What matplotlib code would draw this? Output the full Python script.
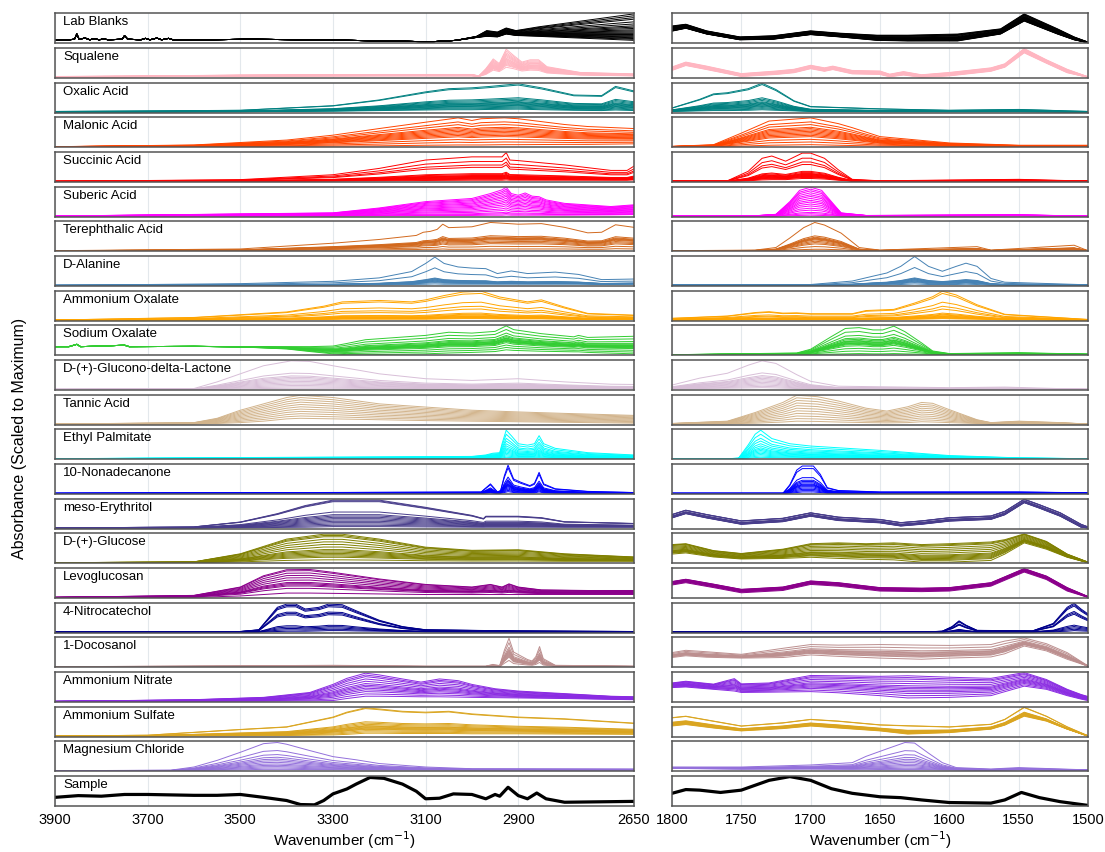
import numpy as np
import matplotlib
matplotlib.use('Agg')
from matplotlib import pyplot as plt

plt.rcParams['font.family'] = ['Liberation Sans', 'DejaVu Sans']

names = ['Lab Blanks', 'Squalene', 'Oxalic Acid', 'Malonic Acid', 'Succinic Acid',
         'Suberic Acid', 'Terephthalic Acid', 'D-Alanine', 'Ammonium Oxalate',
         'Sodium Oxalate', 'D-(+)-Glucono-delta-Lactone', 'Tannic Acid',
         'Ethyl Palmitate', '10-Nonadecanone', 'meso-Erythritol', 'D-(+)-Glucose',
         'Levoglucosan', '4-Nitrocatechol', '1-Docosanol', 'Ammonium Nitrate',
         'Ammonium Sulfate', 'Magnesium Chloride', 'Sample']
colors = ['black', '#FFB6C1', '#008080', '#FF4500', '#FF0000', '#FF00FF', '#D2691E',
          '#4682B4', '#FFA500', '#32CD32', '#D8BFD8', '#D2B48C', '#00FFFF', '#0000FF',
          '#483D8B', '#808000', '#8B008B', '#00008B', '#BC8F8F', '#8A2BE2', '#DAA520',
          '#9370DB', 'black']

left_ticks = [3900, 3700, 3500, 3300, 3100, 2900, 2650]
right_ticks = [1800, 1750, 1700, 1650, 1600, 1550, 1500]

lab_L = [(3900,.09,.09),(3870,.1,.1),(3858,.12,.12),(3853,.3,.3),(3848,.12,.12),(3835,.16,.16),
         (3825,.1,.1),(3815,.14,.14),(3805,.1,.1),(3795,.13,.13),(3785,.1,.1),(3755,.12,.12),
         (3750,.24,.24),(3743,.12,.12),(3715,.1,.1),(3705,.15,.15),(3695,.1,.1),(3680,.16,.16),
         (3670,.1,.1),(3655,.15,.15),(3645,.1,.1),(3572,.1,.1),(3480,.12,.12),(3300,.09,.09),
         (3150,.05,.05),(3090,.03,.03),(3035,.08,.08),(2990,.22,.18),(2968,.42,.22),
         (2945,.37,.2),(2926,.51,.3),(2905,.42,.25),(2856,.55,.22),(2650,1.0,.08)]
lab_R = [(1800,.58,.4),(1790,.64,.5),(1775,.41,.3),(1751,.2,.1),(1727,.24,.12),(1700,.41,.28),
         (1679,.33,.2),(1652,.26,.08),(1630,.26,.06),(1594,.3,.06),(1563,.48,.3),(1546,1.0,.75),
         (1522,.48,.3),(1510,.2,.1),(1500,.02,0)]
lab_w = [1, .93, .86, .8, .7, .62, .55, .5, .45, .4, .36, .32, .28, .25, .22, .19, .16, .13, .1, .07, .04, 0]

squalene_L = [(3900,.03,0),(3700,.05,.02),(3500,.08,.04),(3200,.1,.05),(3000,.1,.05),(2985,.05,.03),
              (2970,.3,.1),(2954,.64,.25),(2941,.48,.2),(2926,.98,.35),(2910,.76,.3),(2892,.53,.22),
              (2874,.61,.25),(2856,.61,.24),(2838,.37,.15),(2766,.17,.08),(2650,.12,.05)]
squalene_R = [(1800,.36,.24),(1790,.53,.41),(1775,.39,.27),(1750,.13,.03),(1725,.22,.1),(1712,.28,.16),
              (1700,.42,.3),(1690,.33,.21),(1684,.39,.27),(1670,.24,.12),(1650,.22,.1),(1643,.11,.02),
              (1633,.2,.08),(1620,.09,0),(1600,.17,.05),(1570,.33,.21),(1560,.47,.35),(1546,1.0,.85),
              (1530,.61,.49),(1515,.28,.16),(1500,.02,0)]
squalene_w = [1, .9, .8, .72, .65, .58, .5, .45, .4, .35, .3, .25, .2, .15, .1, 0]

oxalic_L = [(3900,.02,0),(3500,.06,.01),(3300,.22,.03),(3200,.42,.05),(3100,.7,.07),(3050,.81,.08),
            (3000,.84,.08),(2960,.89,.09),(2900,.98,.1),(2850,.84,.08),(2780,.59,.06),(2720,.57,.05),
            (2690,.89,.07),(2650,.73,.05)]
oxalic_R = [(1800,.14,.02),(1780,.44,.04),(1770,.63,.05),(1760,.67,.05),(1745,.81,.06),(1735,1.0,.08),
            (1725,.78,.06),(1712,.39,.04),(1700,.19,.02),(1650,.11,.01),(1600,.06,.01),(1550,.09,.01),
            (1500,.02,0)]
oxalic_w = [1, .95, .45, .4, .35, .3, .27, .24, .21, .18, .15, .12, .08, .04, 0]

malonic_L = [(3900,0,0),(3600,.06,0),(3400,.23,.01),(3300,.4,.02),(3200,.63,.03),(3100,.85,.05),
             (3030,1.0,.06),(3000,.91,.06),(2980,.97,.06),(2930,1.0,.07),(2900,.97,.07),(2800,.77,.08),
             (2750,.7,.08),(2650,.63,.1)]
malonic_R = [(1800,.01,0),(1770,.07,0),(1750,.47,.02),(1730,.89,.05),(1700,1.0,.07),(1680,.8,.05),
             (1670,.66,.04),(1650,.35,.02),(1600,.13,.01),(1550,.05,0),(1500,.05,0)]
malonic_w = [1, .85, .75, .65, .6, .55, .5, .45, .4, .35, .3, .2, .1, 0]

succinic_L = [(3900,0,0),(3500,.06,0),(3300,.23,.01),(3200,.45,.02),(3100,.74,.03),(3000,.85,.04),
              (2935,.85,.04),(2926,1.0,.05),(2918,.74,.04),(2900,.72,.04),(2800,.57,.04),(2700,.38,.04),
              (2665,.38,.04),(2650,.53,.05)]
succinic_R = [(1800,.01,0),(1760,.02,0),(1745,.35,.02),(1735,.8,.05),(1728,.88,.06),(1718,.7,.06),
              (1706,.98,.1),(1700,.98,.1),(1690,.8,.08),(1680,.4,.04),(1670,.07,.01),(1650,.02,0),
              (1550,.07,.01),(1500,.01,0)]
succinic_w = [1, .8, .65, .55, .28, .24, .2, .18, .16, .14, .12, .1, .08, .06, .04, 0]

suberic_L = [(3900,0,0),(3300,.11,0),(3200,.28,.01),(3100,.5,.02),(3000,.61,.02),(2960,.78,.03),
             (2935,.91,.03),(2926,1.0,.04),(2915,.78,.03),(2900,.72,.03),(2885,.8,.03),(2870,.69,.03),
             (2855,.67,.03),(2840,.56,.03),(2800,.44,.03),(2700,.33,.04),(2650,.39,.05)]
suberic_R = [(1800,0,0),(1740,.01,0),(1725,.06,0),(1715,.5,.01),(1708,.89,.02),(1700,1.0,.03),
             (1692,.89,.02),(1685,.5,.01),(1678,.11,0),(1660,.02,0),(1550,.04,.01),(1500,0,0)]
suberic_w = [1, .93, .87, .8, .73, .67, .6, .53, .47, .4, .33, .25, .18, .1, .05, 0]

tere_L = [(3900,0,0),(3500,.06,0),(3300,.26,.02),(3200,.39,.03),(3120,.53,.04),(3105,.64,.05),
          (3090,.67,.05),(3075,.74,.05),(3063,.92,.06),(3050,.8,.05),(3000,.83,.05),(2960,.98,.06),
          (2900,.92,.06),(2850,.94,.06),(2800,.81,.06),(2750,.62,.05),(2720,.64,.05),(2690,.9,.07),
          (2650,.81,.06)]
tere_R = [(1800,0,0),(1740,.02,0),(1725,.11,0),(1715,.44,.02),(1705,.8,.04),(1697,.98,.05),
          (1690,.89,.05),(1678,.61,.03),(1665,.11,0),(1650,.02,0),(1580,.14,.01),(1570,.02,0),
          (1510,.19,.01),(1500,0,0)]
tere_w = [1, .5, .45, .42, .4, .38, .35, .3, .25, .2, .1, 0]

alanine_L = [(3900,0,0),(3500,.06,0),(3300,.14,.01),(3200,.26,.02),(3130,.48,.03),(3100,.76,.04),
             (3080,.98,.05),(3060,.76,.04),(3030,.64,.04),(3000,.6,.04),(2970,.58,.04),(2945,.41,.04),
             (2915,.5,.04),(2880,.41,.04),(2820,.46,.04),(2770,.38,.04),(2720,.2,.03),(2650,.22,.04)]
alanine_R = [(1800,.02,0),(1700,.03,0),(1670,.15,.01),(1655,.32,.02),(1645,.43,.02),(1635,.66,.03),
             (1625,1.0,.05),(1615,.66,.03),(1605,.49,.03),(1595,.66,.03),(1588,.77,.04),(1580,.66,.03),
             (1570,.24,.01),(1560,.11,.01),(1500,.02,0)]
alanine_w = [1, .6, .22, .2, .18, .16, .14, .12, .1, .08, .05, 0]

amox_L = [(3900,0,0),(3600,.09,0),(3400,.28,.01),(3320,.48,.02),(3280,.63,.03),(3230,.66,.03),
          (3200,.68,.03),(3130,.63,.03),(3100,.7,.03),(3060,.85,.04),(3020,.97,.05),(2980,1.0,.05),
          (2940,.8,.04),(2880,.63,.04),(2850,.7,.04),(2800,.45,.03),(2750,.23,.02),(2650,.17,.02)]
amox_R = [(1800,.06,0),(1760,.14,.01),(1740,.26,.01),(1730,.29,.01),(1720,.24,.01),(1710,.25,.01),
          (1700,.22,.01),(1670,.22,.01),(1660,.33,.01),(1640,.37,.02),(1625,.59,.03),(1612,.81,.04),
          (1605,1.0,.05),(1595,.87,.04),(1580,.53,.03),(1560,.2,.01),(1540,.14,.01),(1500,.02,0)]
amox_w = [1, .92, .6, .45, .35, .2, .16, .13, .1, .08, .06, .04, .02, 0]

naox_L = [(3900,.28,.28),(3870,.28,.28),(3853,.36,.36),(3845,.28,.28),(3800,.3,.3),(3750,.33,.33),
          (3740,.28,.28),(3600,.29,.29),(3500,.28,.27),(3400,.28,.2),(3350,.28,.11),(3300,.3,.03),
          (3270,.39,0),(3230,.52,0),(3100,.67,.03),(3050,.78,.06),(3000,.75,.08),(2950,.81,.11),
          (2926,1.0,.17),(2910,.87,.15),(2850,.73,.12),(2780,.62,.1),(2770,.67,.1),(2750,.6,.08),
          (2650,.64,.03)]
naox_R = [(1800,0,0),(1710,.06,0),(1700,.19,.01),(1685,.63,.02),(1675,.91,.03),(1665,.94,.04),
          (1655,.86,.03),(1648,.86,.03),(1640,.99,.04),(1632,.8,.03),(1620,.41,.02),(1612,.13,.01),
          (1600,.04,0),(1550,.07,.01),(1500,.02,0)]
naox_w = [1, .85, .7, .6, .55, .5, .48, .45, .42, .4, .38, .35, .3, .2, .1, 0]

glucono_L = [(3900,0,0),(3600,.03,0),(3550,.26,.01),(3500,.54,.02),(3450,.82,.03),(3390,.99,.04),
             (3350,.97,.04),(3300,.82,.04),(3200,.54,.03),(3100,.37,.03),(3000,.31,.03),(2900,.37,.03),
             (2800,.26,.03),(2700,.18,.02),(2650,.17,.02)]
glucono_R = [(1800,.15,.02),(1780,.39,.03),(1760,.56,.04),(1745,.84,.05),(1735,.99,.06),(1725,.9,.05),
             (1710,.51,.03),(1700,.28,.02),(1680,.11,.01),(1600,.06,.01),(1560,.08,.01),(1500,0,0)]
glucono_w = [1, .55, .45, .4, .35, .3, .25, .2, .15, .1, .05, 0]

tannic_L = [(3900,0,0),(3600,.05,0),(3550,.2,.02),(3500,.48,.05),(3450,.7,.1),(3400,.92,.18),
            (3370,1.0,.2),(3300,.92,.18),(3200,.7,.15),(3100,.59,.12),(3000,.48,.1),(2900,.42,.08),
            (2800,.37,.06),(2650,.3,.03)]
tannic_R = [(1800,.02,0),(1760,.1,.01),(1740,.4,.03),(1720,.75,.07),(1710,1.0,.1),(1695,.95,.09),
            (1680,.8,.07),(1660,.55,.05),(1645,.45,.04),(1630,.6,.05),(1620,.75,.08),(1612,.72,.07),
            (1600,.5,.05),(1580,.15,.02),(1570,.05,0),(1550,.1,.01),(1520,.05,0),(1500,0,0)]
tannic_w = [1, .9, .8, .7, .6, .5, .4, .3, .2, .1, 0]

ethyl_L = [(3900,0,0),(3500,.04,0),(3000,.08,.01),(2970,.13,.01),(2955,.19,.02),(2940,.21,.02),
           (2935,.52,.03),(2926,.99,.05),(2915,.8,.04),(2900,.52,.03),(2880,.47,.03),(2865,.52,.03),
           (2855,.8,.04),(2845,.52,.03),(2820,.36,.02),(2750,.21,.01),(2650,.13,.01)]
ethyl_R = [(1800,0,0),(1760,0,0),(1752,.02,0),(1745,.48,.02),(1740,.85,.04),(1736,.99,.05),
           (1728,.7,.04),(1715,.52,.03),(1700,.44,.02),(1650,.29,.01),(1600,.11,.01),(1550,.03,0),
           (1500,0,0)]
ethyl_w = [1, .85, .7, .6, .5, .42, .35, .3, .25, .2, .15, .1, .05, 0]

nonadec_L = [(3900,0,0),(2980,.05,0),(2960,.33,.02),(2953,.2,.01),(2945,.05,0),(2938,.1,.01),
             (2930,.61,.03),(2922,.98,.06),(2910,.5,.03),(2895,.39,.02),(2875,.27,.02),(2865,.35,.02),
             (2855,.73,.05),(2845,.33,.02),(2820,.16,.01),(2750,.07,0),(2650,.03,0)]
nonadec_R = [(1800,0,0),(1720,0,0),(1715,.3,.01),(1710,.81,.03),(1706,.95,.05),(1698,.95,.05),
             (1693,.66,.03),(1688,.2,.01),(1680,.1,.01),(1650,.05,0),(1550,.05,0),(1500,.02,0)]
nonadec_w = [1, .9, .55, .45, .4, .35, .3, .27, .24, .2, .15, .1, .05, 0]

erythritol_L = [(3900,0,0),(3600,.04,0),(3500,.21,.01),(3420,.5,.02),(3360,.78,.03),(3300,.97,.05),
                (3200,.97,.05),(3100,.72,.04),(3000,.44,.03),(2975,.33,.03),(2970,.41,.03),
                (2920,.41,.03),(2900,.41,.03),(2850,.36,.03),(2800,.22,.03),(2650,.16,.03)]
erythritol_R = [(1800,.47,.35),(1790,.62,.5),(1775,.47,.35),(1750,.25,.13),(1720,.34,.22),(1700,.53,.41),
                (1680,.38,.26),(1650,.3,.18),(1635,.19,.07),(1620,.25,.13),(1600,.36,.24),(1570,.42,.3),
                (1560,.58,.46),(1546,1.0,.88),(1535,.81,.69),(1520,.53,.41),(1505,.13,.03),(1500,.04,0)]
erythritol_w = [1, .97, .94, .55, .45, .4, .35, .3, .25, .2, .15, .1, .05, 0]

glucose_L = [(3900,0,0),(3600,.03,0),(3500,.31,.03),(3400,.82,.08),(3320,.99,.1),(3280,.99,.1),
             (3200,.82,.09),(3100,.54,.07),(3000,.43,.06),(2900,.45,.06),(2800,.31,.05),(2650,.2,.05)]
glucose_R = [(1800,.63,.3),(1790,.66,.34),(1770,.42,.2),(1750,.32,.13),(1720,.47,.15),(1700,.66,.19),
             (1680,.69,.15),(1660,.66,.12),(1640,.69,.1),(1620,.63,.02),(1600,.66,.02),(1570,.72,.08),
             (1560,.8,.3),(1546,1.0,.69),(1530,.74,.47),(1515,.3,.19),(1500,.02,0)]
glucose_w = [1, .95, .9, .8, .7, .6, .5, .4, .35, .3, .25, .2, .15, .1, 0]

levo_L = [(3900,0,0),(3600,.07,0),(3500,.36,.05),(3450,.75,.1),(3400,.96,.15),(3350,.97,.15),
          (3300,.87,.14),(3200,.64,.12),(3100,.45,.1),(3000,.36,.1),(2960,.45,.1),(2935,.36,.1),
          (2920,.47,.1),(2900,.36,.1),(2850,.26,.1),(2750,.24,.1),(2650,.24,.1)]
levo_R = [(1800,.55,.43),(1790,.63,.51),(1770,.46,.34),(1750,.28,.16),(1720,.36,.24),(1700,.57,.45),
          (1680,.51,.39),(1650,.34,.22),(1620,.32,.2),(1600,.34,.22),(1570,.51,.39),(1546,1.0,.88),
          (1530,.74,.62),(1515,.34,.22),(1500,.03,0)]
levo_w = [1, .95, .85, .75, .65, .55, .45, .4, .35, .3, .2, 0]

nitro_L = [(3900,0,0),(3500,.02,0),(3460,.08,0),(3440,.47,.01),(3420,.86,.02),(3400,.97,.03),
           (3380,.97,.03),(3360,.8,.03),(3330,.86,.04),(3310,.97,.05),(3280,.95,.05),(3250,.74,.04),
           (3200,.41,.03),(3150,.19,.02),(3100,.08,.01),(2900,.04,0),(2650,.02,0)]
nitro_R = [(1800,0,0),(1620,0,0),(1605,.03,0),(1598,.19,.01),(1593,.39,.02),(1588,.24,.01),
           (1580,.06,0),(1540,.04,0),(1525,.3,.01),(1515,.86,.03),(1510,1.0,.05),(1505,.8,.04),
           (1500,.63,.03)]
nitro_w = [1, .95, .9, .7, .65, .6, .2, .15, .1, .05, 0]

docosanol_L = [(3900,0,0),(3300,.05,0),(3100,.02,0),(2970,.02,0),(2955,.08,.01),(2940,.04,0),
               (2930,.57,.12),(2920,.99,.22),(2910,.51,.11),(2880,.25,.06),(2870,.2,.05),(2862,.35,.08),
               (2854,.7,.15),(2846,.28,.06),(2820,.05,.01),(2650,.02,0)]
docosanol_R = [(1800,.49,.32),(1790,.57,.38),(1775,.52,.33),(1750,.43,.3),(1720,.64,.32),(1700,.77,.41),
               (1680,.75,.36),(1650,.77,.3),(1620,.75,.26),(1600,.74,.3),(1570,.77,.34),(1560,.89,.45),
               (1546,1.0,.72),(1530,.8,.55),(1515,.49,.26),(1500,.03,.02)]
docosanol_w = [1, .8, .6, .5, .45, .4, .35, .3, .25, .2, .15, 0]

amnit_L = [(3900,0,0),(3600,.06,0),(3450,.14,.01),(3350,.31,.02),(3300,.59,.03),(3270,.8,.1),
           (3230,.98,.18),(3200,.92,.18),(3150,.78,.17),(3110,.67,.16),(3070,.78,.16),(3030,.72,.15),
           (3000,.59,.14),(2950,.44,.13),(2900,.36,.12),(2800,.27,.1),(2700,.18,.07),(2650,.16,.06)]
amnit_R = [(1800,.64,.48),(1790,.7,.5),(1770,.6,.42),(1755,.79,.36),(1750,.61,.31),(1730,.64,.32),
           (1700,.9,.34),(1680,.89,.3),(1650,.87,.2),(1630,.89,.12),(1600,.84,.14),(1570,.8,.2),
           (1546,1.0,.53),(1530,.76,.42),(1515,.42,.2),(1505,.24,.08),(1500,.17,.03)]
amnit_w = [1, .92, .85, .75, .65, .55, .48, .42, .35, .28, .2, .1, 0]

amsulf_L = [(3900,0,0),(3700,.03,0),(3500,.23,.01),(3400,.32,.02),(3300,.66,.04),(3270,.83,.06),
            (3230,.98,.1),(3200,.94,.1),(3150,.86,.09),(3100,.83,.09),(3050,.86,.09),(3000,.77,.08),
            (2900,.66,.08),(2800,.6,.07),(2650,.45,.06)]
amsulf_R = [(1800,.64,.35),(1790,.69,.4),(1770,.52,.28),(1750,.35,.18),(1720,.46,.26),(1700,.58,.35),
            (1680,.52,.28),(1650,.39,.18),(1630,.36,.07),(1600,.32,.12),(1570,.41,.24),(1560,.58,.38),
            (1546,1.0,.69),(1530,.69,.52),(1515,.32,.24),(1500,.01,0)]
amsulf_w = [1, .97, .45, .4, .35, .3, .28, .25, .22, .2, .17, .15, .1, .05, 0]

mgcl_L = [(3900,0,0),(3650,.02,0),(3600,.13,.01),(3550,.36,.02),(3500,.64,.03),(3450,.94,.05),
          (3420,.98,.05),(3400,.92,.05),(3350,.7,.04),(3300,.49,.04),(3250,.38,.03),(3200,.25,.03),
          (3100,.13,.03),(3000,.07,.03),(2650,.06,.03)]
mgcl_R = [(1800,.13,.08),(1750,.13,.06),(1700,.2,.06),(1670,.28,.05),(1660,.5,.05),(1645,.76,.04),
          (1632,.98,.04),(1625,.96,.04),(1615,.61,.04),(1605,.28,.03),(1595,.11,.03),(1570,.06,.02),
          (1550,.11,.03),(1500,.03,.02)]
mgcl_w = [1, .7, .55, .45, .38, .32, .26, .2, .15, .1, .05, 0]

sample_L = [(3900,.28,.28),(3850,.34,.34),(3800,.32,.32),(3750,.38,.38),(3700,.38,.38),(3600,.35,.35),
            (3550,.35,.35),(3500,.38,.38),(3450,.28,.28),(3400,.17,.17),(3370,.03,.03),(3340,.02,.02),
            (3320,.17,.17),(3300,.4,.4),(3270,.57,.57),(3250,.74,.74),(3220,.97,.97),(3190,.94,.94),
            (3150,.74,.74),(3120,.49,.49),(3100,.23,.23),(3070,.25,.25),(3040,.4,.4),(3000,.38,.38),
            (2970,.23,.23),(2950,.38,.38),(2940,.32,.32),(2922,.63,.63),(2900,.34,.34),(2880,.23,.23),
            (2860,.43,.43),(2840,.23,.23),(2800,.11,.11),(2650,.14,.14)]
sample_R = [(1800,.42,.42),(1790,.55,.55),(1780,.53,.53),(1765,.45,.45),(1750,.53,.53),(1740,.7,.7),
            (1730,.87,.87),(1715,1.0,1.0),(1700,.87,.87),(1685,.58,.58),(1670,.42,.42),(1650,.3,.3),
            (1635,.27,.27),(1620,.19,.19),(1600,.1,.1),(1570,.08,.08),(1560,.19,.19),(1548,.45,.45),
            (1535,.27,.27),(1520,.13,.13),(1500,0,0)]
sample_w = [1]

left_data = [lab_L, squalene_L, oxalic_L, malonic_L, succinic_L, suberic_L, tere_L, alanine_L,
             amox_L, naox_L, glucono_L, tannic_L, ethyl_L, nonadec_L, erythritol_L, glucose_L,
             levo_L, nitro_L, docosanol_L, amnit_L, amsulf_L, mgcl_L, sample_L]
right_data = [lab_R, squalene_R, oxalic_R, malonic_R, succinic_R, suberic_R, tere_R, alanine_R,
              amox_R, naox_R, glucono_R, tannic_R, ethyl_R, nonadec_R, erythritol_R, glucose_R,
              levo_R, nitro_R, docosanol_R, amnit_R, amsulf_R, mgcl_R, sample_R]
weights = [lab_w, squalene_w, oxalic_w, malonic_w, succinic_w, suberic_w, tere_w, alanine_w,
           amox_w, naox_w, glucono_w, tannic_w, ethyl_w, nonadec_w, erythritol_w, glucose_w,
           levo_w, nitro_w, docosanol_w, amnit_w, amsulf_w, mgcl_w, sample_w]

n = len(names)
fig = plt.figure(figsize=(11.05, 8.52), dpi=100)
gs_l = fig.add_gridspec(n, 1, left=0.0498, right=0.5738, top=0.9844, bottom=0.054, hspace=0.157)
gs_r = fig.add_gridspec(n, 1, left=0.6081, right=0.9846, top=0.9844, bottom=0.054, hspace=0.157)

for i in range(n):
    axl = fig.add_subplot(gs_l[i])
    axr = fig.add_subplot(gs_r[i])
    lw = 2.3 if names[i] == 'Sample' else 0.7
    for ax, pts, ticks in ((axl, left_data[i], left_ticks), (axr, right_data[i], right_ticks)):
        arr = np.array(pts, dtype=float)
        wn, hi, lo = arr[:, 0], arr[:, 1], arr[:, 2]
        for w in weights[i]:
            ax.plot(wn, lo + w * (hi - lo), color=colors[i], lw=lw)
        ax.set_xlim(ticks[0], ticks[-1])
        ax.set_ylim(-0.02, 1.02)
        ax.set_xticks(ticks)
        ax.set_yticks([])
        ax.grid(axis='x', color='#e3e8ec', lw=0.8)
        ax.set_axisbelow(True)
        ax.tick_params(length=0, labelsize=10.5, pad=5, labelbottom=(i == n - 1))
        for s in ax.spines.values():
            s.set_color('#555555')
            s.set_linewidth(1.1)
    axl.text(0.014, 0.9, names[i], transform=axl.transAxes, ha='left', va='top', fontsize=9.5)
    if i == n - 1:
        axl.set_xlabel('Wavenumber (cm$^{-1}$)', fontsize=11, labelpad=2)
        axr.set_xlabel('Wavenumber (cm$^{-1}$)', fontsize=11, labelpad=2)

fig.text(0.018, 0.485, 'Absorbance (Scaled to Maximum)', rotation=90, ha='center', va='center', fontsize=11.5)

plt.savefig('out.png', dpi=100)
